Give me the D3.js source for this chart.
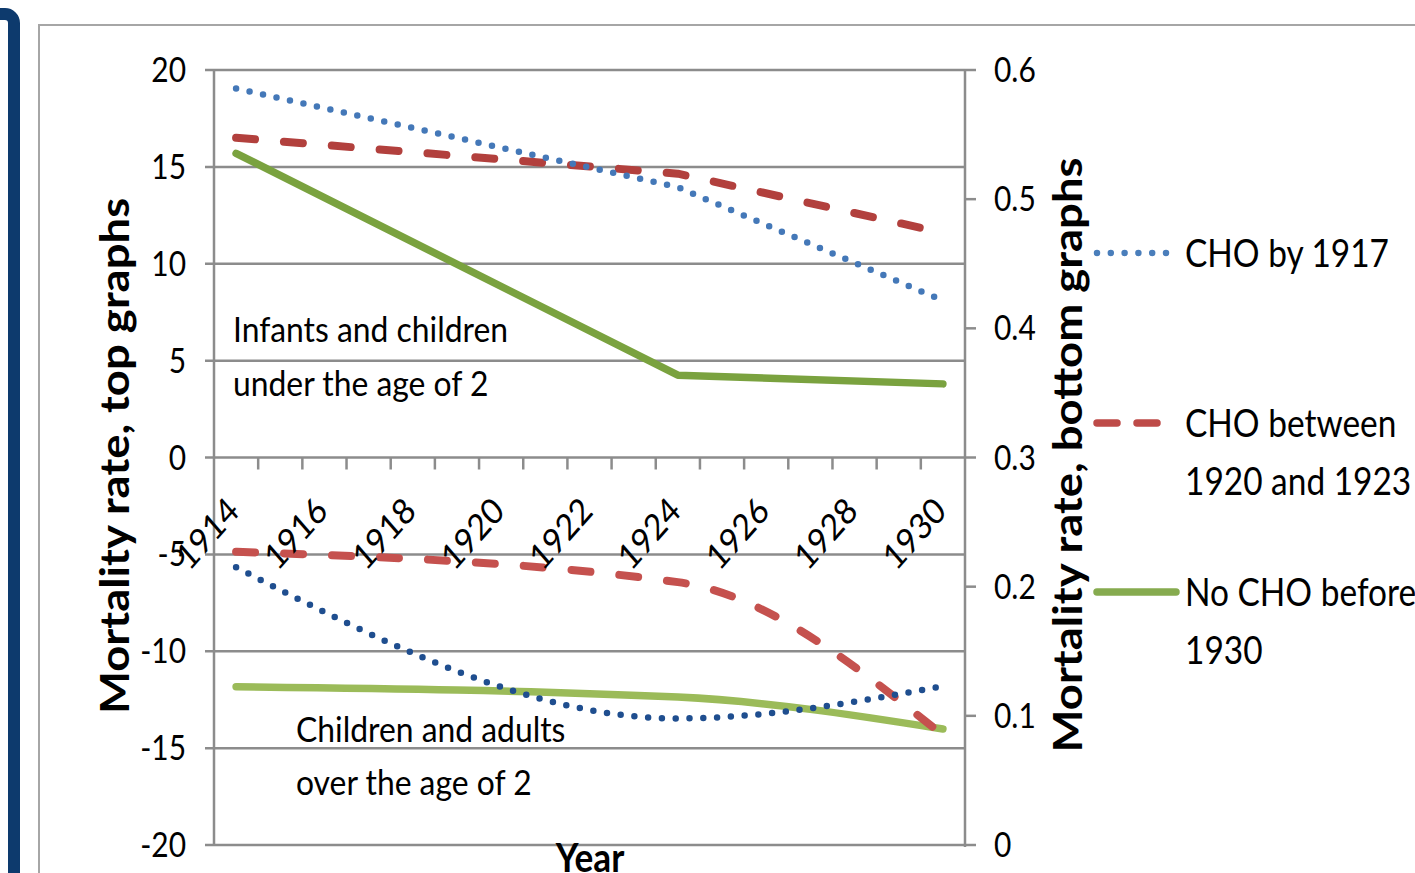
<!DOCTYPE html>
<html><head><meta charset="utf-8">
<script src="https://cdn.jsdelivr.net/npm/d3@7"></script>
<style>html,body{margin:0;padding:0;background:#fff;overflow:hidden}</style>
</head><body>
<svg id="c" width="1415" height="873"></svg>
<script>
// ---- data ----
const categories = [1914,1915,1916,1917,1918,1919,1920,1921,1922,1923,1924,1925,1926,1927,1928,1929,1930];
const tickLabels = ["1914","1916","1918","1920","1922","1924","1926","1928","1930"];
const leftTicks = [20,15,10,5,0,-5,-10,-15,-20];
const rightTicks = [0.6,0.5,0.4,0.3,0.2,0.1,0];
const rightTickLabels = ["0.6","0.5","0.4","0.3","0.2","0.1","0"];
const dataYears = [1914,1924,1930];
// top graphs (left axis): infants and children under 2
const topCHOby1917 = [19.05, 13.95, 8.1];
const topCHO1920to1923 = [16.5, 14.65, 11.6];
const topNoCHO = [15.7, 4.25, 3.8];
// bottom graphs (right axis): children and adults over 2
const botCHOby1917 = [0.215, 0.098, 0.123];
const botCHO1920to1923 = [0.227, 0.2035, 0.085];
const botNoCHO = [0.1225, 0.1145, 0.0898];
const seriesNames = ["CHO by 1917", ["CHO between","1920 and 1923"], ["No CHO before","1930"]];

// ---- setup ----
const svg = d3.select("#c");
const FONT = "Lato, 'Open Sans', sans-serif";
const SX = 0.88;
const x = d3.scaleBand().domain(categories).range([214, 965]).padding(0);
const cx = d => x(d) + x.bandwidth()/2;
const yL = d3.scaleLinear().domain([-20,20]).range([845,70]);
const yR = d3.scaleLinear().domain([0,0.6]).range([845,70]);
const gridC = "#8c8c8c";

function txt(g, px, py, s, o={}) {
  return g.append("text")
    .attr("transform", `translate(${px},${py}) scale(${o.sx||SX},1) rotate(${o.rot||0})`)
    .attr("font-family", FONT).attr("font-size", o.size||34)
    .attr("font-weight", o.weight||"normal")
    .attr("text-anchor", o.anchor||"start")
    .attr("fill", "#000").text(s);
}

// frame
svg.append("rect").attr("x",-100).attr("y",14).attr("width",114).attr("height",1000)
  .attr("rx",9).attr("fill","none").attr("stroke","#0d3a6d").attr("stroke-width",12);
svg.append("rect").attr("x",39).attr("y",25).attr("width",1500).attr("height",1000)
  .attr("fill","none").attr("stroke","#a6a6a6").attr("stroke-width",2);

// gridlines / left ticks
const g = svg.append("g");
g.selectAll(".gl").data(leftTicks).join("line")
  .attr("x1",205).attr("x2",965).attr("y1",d=>yL(d)).attr("y2",d=>yL(d))
  .attr("stroke",gridC).attr("stroke-width",2.5);
g.append("line").attr("x1",214).attr("x2",214).attr("y1",yL(20)).attr("y2",yL(-20))
  .attr("stroke",gridC).attr("stroke-width",2.5);
g.append("line").attr("x1",965).attr("x2",965).attr("y1",yR(0.6)).attr("y2",yR(0)+2)
  .attr("stroke",gridC).attr("stroke-width",2.5);
g.selectAll(".rt").data(rightTicks).join("line")
  .attr("x1",965).attr("x2",976).attr("y1",d=>yR(d)).attr("y2",d=>yR(d))
  .attr("stroke",gridC).attr("stroke-width",2.5);
g.selectAll(".xt").data(categories.slice(1)).join("line")
  .attr("x1",d=>x(d)).attr("x2",d=>x(d)).attr("y1",yL(0)).attr("y2",yL(0)+12)
  .attr("stroke",gridC).attr("stroke-width",2.5);

// ---- lines ----
const lineTop = d3.line().x((d,i)=>cx(dataYears[i])).y(d=>yL(d));
const lineBot = d3.line().x((d,i)=>cx(dataYears[i])).y(d=>yR(d)).curve(d3.curveMonotoneX);
const dotted = {dash:"0 13.8", w:6.5, cap:"round"};
const dashed = {dash:"19 29", w:8, cap:"round"};
const solid = {dash:null, w:7.5, cap:"round"};
function drawLine(vals, gen, color, st) {
  svg.append("path").datum(vals).attr("d", gen).attr("fill","none")
    .attr("stroke",color).attr("stroke-width",st.w).attr("stroke-linecap",st.cap)
    .attr("stroke-linejoin","round").attr("stroke-dasharray",st.dash);
}
drawLine(topNoCHO, lineTop, "#7aa23f", solid);
drawLine(topCHO1920to1923, lineTop, "#b2403d", dashed);
drawLine(topCHOby1917, lineTop, "#4478b8", dotted);
drawLine(botNoCHO, lineBot, "#9bbb59", solid);
drawLine(botCHO1920to1923, lineBot, "#c5514e", dashed);
drawLine(botCHOby1917, lineBot, "#1f4e8f", dotted);

// ---- tick labels ----
const tl = svg.append("g");
leftTicks.forEach(v => txt(tl, 186, yL(v)+12, String(v), {anchor:"end", size:34}));
rightTicks.forEach((v,i) => txt(tl, 994, yR(v)+12, rightTickLabels[i], {size:34}));
tickLabels.forEach(s => txt(tl, cx(+s)+5, 513, s, {anchor:"end", size:36, rot:-45}));

// annotations
const AS = 0.91;
txt(tl, 233, 342, "Infants and children", {size:35, sx:AS});
txt(tl, 233, 396, "under the age of 2", {size:35, sx:AS});
txt(tl, 296, 742, "Children and adults", {size:35, sx:AS});
txt(tl, 296, 795, "over the age of 2", {size:35, sx:AS});

// axis titles
txt(tl, 129, 456, "Mortality rate, top graphs", {size:45.5, weight:"bold", anchor:"middle", rot:-90});
txt(tl, 1082, 455, "Mortality rate, bottom graphs", {size:45.5, weight:"bold", anchor:"middle", rot:-90});
txt(tl, 590, 872, "Year", {size:40, weight:"bold", anchor:"middle"});

// ---- legend ----
const lg = svg.append("g");
const legendStyles = [
  {c:"#4a7ebb", st:dotted, y:253, x2:1167},
  {c:"#be4b48", st:{dash:"20 20", w:7.5, cap:"round"}, y:423, x2:1164},
  {c:"#86ab4f", st:solid, y:592, x2:1176}
];
legendStyles.forEach((L,i) => {
  lg.append("line").attr("x1",1097).attr("x2",L.x2).attr("y1",L.y).attr("y2",L.y)
    .attr("stroke",L.c).attr("stroke-width",L.st.w).attr("stroke-linecap",L.st.cap)
    .attr("stroke-dasharray",L.st.dash);
  const nm = seriesNames[i];
  const lines = Array.isArray(nm) ? nm : [nm];
  lines.forEach((s,j) => txt(lg, 1185, L.y + 14 + j*58, s, {size:38}));
});
</script>
</body></html>
